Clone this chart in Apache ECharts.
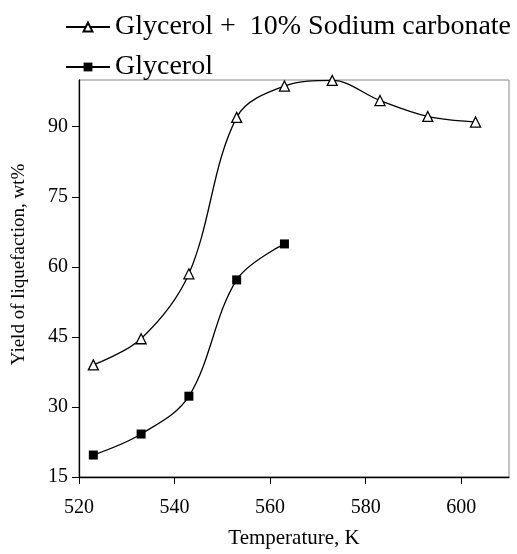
<!DOCTYPE html>
<html>
<head>
<meta charset="utf-8">
<script src="https://cdn.jsdelivr.net/npm/echarts@6/dist/echarts.min.js"></script>
<style>
html,body{margin:0;padding:0;background:#fff;}
#chart{width:517px;height:554px;}
</style>
</head>
<body>
<div id="chart"></div>
<script>
// temperatures, K
var temps = [523, 533, 543, 553, 563, 573, 583, 593, 603];
// yield of liquefaction, wt%
var withCarbonate = [39, 44.6, 58.5, 92, 98.7, 99.9, 95.6, 92.2, 91];
var glycerolOnly = [19.7, 24.2, 32.3, 57.2, 64.9];
var xTicks = [520, 540, 560, 580, 600];
var yTicks = [15, 30, 45, 60, 75, 90];

var font = 'Liberation Serif, Times New Roman, serif';

function pairs(xs, ys){
	var out = [];
	for(var i=0;i<ys.length;i++){
		out.push([xs[i], ys[i]]);
	}
	return out;
}

var chart = echarts.init(document.getElementById('chart'));
var options = {
	animation: false,
	backgroundColor: '#fff',
	textStyle: {fontFamily: font, color: '#000'},
	legend: {
		orient: 'vertical',
		left: 60,
		top: 8,
		itemWidth: 44,
		itemHeight: 11,
		itemGap: 12,
		textStyle: {fontFamily: font, fontSize: 28, color: '#000', lineHeight: 28},
		data: ['Glycerol +  10% Sodium carbonate', 'Glycerol']
	},
	grid: {
		left: 79, right: 8, top: 80, bottom: 77,
		show: true, borderColor: '#888', borderWidth: 1, backgroundColor: 'transparent'
	},
	xAxis: {
		type: 'value',
		min: 520, max: 610, interval: 20,
		name: 'Temperature, K',
		nameLocation: 'middle',
		nameGap: 51,
		nameTextStyle: {fontFamily: font, fontSize: 21, color: '#000'},
		axisLine: {lineStyle: {color: '#000', width: 1.3}},
		axisTick: {show: true, length: 7, lineStyle: {color: '#000'}, customValues: xTicks},
		axisLabel: {fontFamily: font, fontSize: 20, color: '#000', margin: 21, customValues: xTicks},
		splitLine: {show: false}
	},
	yAxis: {
		type: 'value',
		min: 15, max: 100, interval: 15,
		name: 'Yield of liquefaction, wt%',
		nameLocation: 'middle',
		nameGap: 50,
		nameTextStyle: {fontFamily: font, fontSize: 19, color: '#000', padding: [0, 0, 0, 28]},
		axisLine: {show: true, lineStyle: {color: '#000', width: 1.3}},
		axisTick: {show: true, length: 7, lineStyle: {color: '#000'}, customValues: yTicks},
		axisLabel: {fontFamily: font, fontSize: 20, color: '#000', margin: 11, customValues: yTicks},
		splitLine: {show: false}
	},
	series: [
		{
			name: 'Glycerol +  10% Sodium carbonate',
			type: 'line',
			smooth: 0.35,
			data: pairs(temps, withCarbonate),
			symbol: 'triangle',
			symbolSize: 10,
			showAllSymbol: true,
			lineStyle: {color: '#000', width: 1.3},
			itemStyle: {color: '#fff', borderColor: '#000', borderWidth: 1.3}
		},
		{
			name: 'Glycerol',
			type: 'line',
			smooth: 0.35,
			data: pairs(temps, glycerolOnly),
			symbol: 'rect',
			symbolSize: 9,
			lineStyle: {color: '#000', width: 1.3},
			itemStyle: {color: '#000', borderColor: '#000', borderWidth: 0}
		}
	]
};
chart.setOption(options);
</script>
</body>
</html>
